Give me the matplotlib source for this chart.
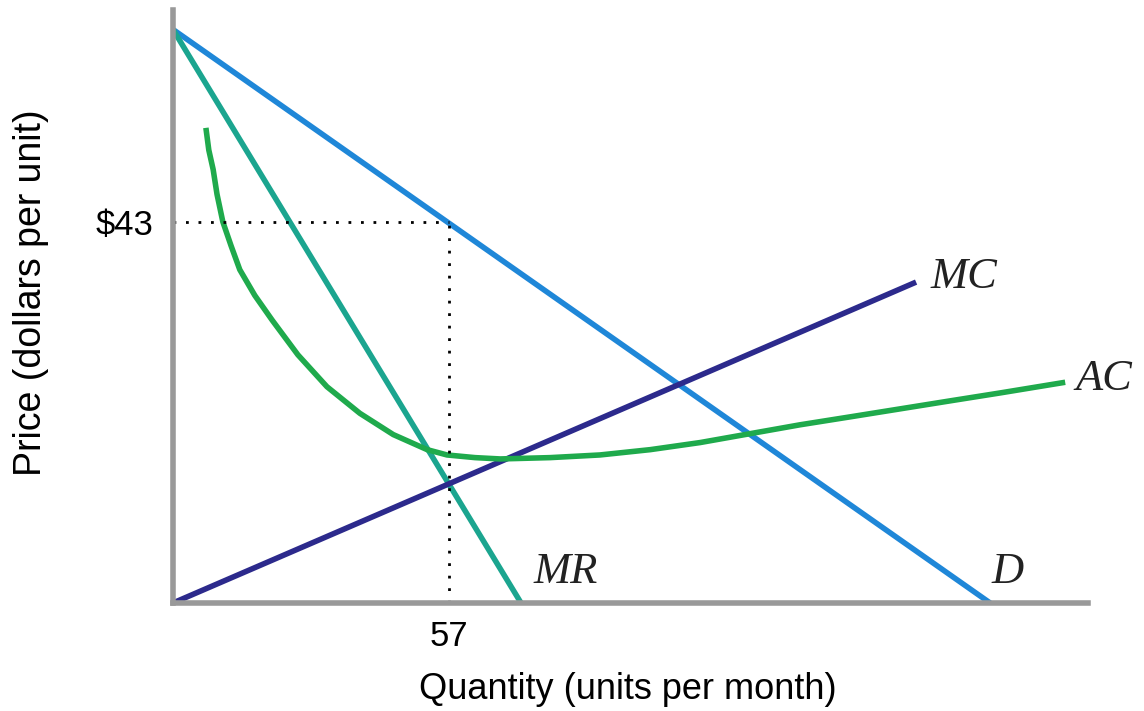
import numpy as np
import matplotlib.pyplot as plt

# demand and marginal revenue (straight lines, same price intercept)
d_q = [0, 168.8]
d_p = [64.7, 0]
mr_q = [0, 71.9]
mr_p = [64.7, 0]

# marginal cost
mc_q = [0, 153.5]
mc_p = [0, 36.2]

# average cost
ac_q = [6.8, 7.4, 8.3, 9.1, 10.3, 12.0, 13.8, 16.9, 20.5, 25.8, 31.8, 38.6, 45.5, 52.5, 56.6, 62.4,
        67.6, 77.9, 88.2, 98.6, 108.9, 119.2, 129.5, 139.9, 150.2, 160.5, 170.9, 184.3]
ac_p = [53.6, 51.1, 48.9, 46.1, 43.0, 40.3, 37.6, 34.7, 31.9, 28.0, 24.4, 21.4, 19.0, 17.3, 16.7, 16.4,
        16.25, 16.4, 16.7, 17.3, 18.1, 19.1, 20.1, 21.0, 21.9, 22.8, 23.7, 24.9]

q_star = 57
p_star = 43

fig = plt.figure(figsize=(11.44, 7.11), dpi=100)
ax = fig.add_axes([0.1512, 0.1519, 0.7998, 0.8341])

ax.plot(d_q, d_p, color='#1f87d8', lw=4, solid_capstyle='butt')
ax.plot(mr_q, mr_p, color='#1ba58f', lw=4, solid_capstyle='butt')
ax.plot(mc_q, mc_p, color='#2c2a8c', lw=4, solid_capstyle='butt')
ax.plot(ac_q, ac_p, color='#1faa4c', lw=4, solid_capstyle='butt', solid_joinstyle='round')

ax.plot([0, q_star], [p_star, p_star], color='black', lw=2, ls=(0, (1, 3.5)))
ax.plot([q_star, q_star], [0, p_star], color='black', lw=2, ls=(0, (1, 3.5)))

lab = dict(family='Liberation Serif', style='italic', fontsize=32, color='#222222')
ax.text(156.5, 36.8, 'MC', va='center', ha='left', **lab)
ax.text(186.5, 25.3, 'AC', va='center', ha='left', **lab)
ax.text(74.5, 3.5, 'MR', va='center', ha='left', **lab)
ax.text(169, 3.5, 'D', va='center', ha='left', **lab)

ax.set_xlim(0, 189)
ax.set_ylim(0, 66.9)
ax.set_xticks([q_star])
ax.set_xticklabels(['57'])
ax.set_yticks([p_star])
ax.set_yticklabels(['$43'])
ax.tick_params(length=0, labelsize=25, pad=12, labelfontfamily='Liberation Sans')
ax.tick_params(axis='y', pad=14)

for s in ['top', 'right']:
    ax.spines[s].set_visible(False)
for s in ['left', 'bottom']:
    ax.spines[s].set_color('#999999')
    ax.spines[s].set_linewidth(4)

fig.text(0.549, 0.03, 'Quantity (units per month)', ha='center', va='center', fontsize=26, family='Liberation Sans')
fig.text(0.027, 0.589, 'Price (dollars per unit)', ha='center', va='center', rotation=90, fontsize=27, family='Liberation Sans')

fig.savefig('out.png', dpi=100)
